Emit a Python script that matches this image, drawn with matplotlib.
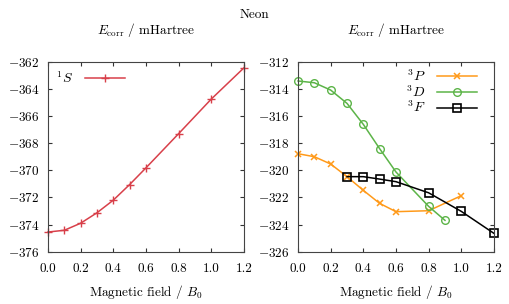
import matplotlib.pyplot as plt
import numpy as np

plt.rcParams['font.family'] = 'serif'
plt.rcParams['font.serif'] = ['cmr10']
plt.rcParams['mathtext.fontset'] = 'cm'
plt.rcParams['axes.formatter.use_mathtext'] = True
Fontsize = 9.5

# 1S state
field_s = [0.0, 0.1, 0.2, 0.3, 0.4, 0.5, 0.6, 0.8, 1.0, 1.2]
ecorr_s = [-374.55, -374.42, -373.9, -373.13, -372.2, -371.05, -369.82, -367.3, -364.75, -362.45]

# triplet states
field_p = [0.0, 0.1, 0.2, 0.3, 0.4, 0.5, 0.6, 0.8, 1.0]
ecorr_p = [-318.78, -319.0, -319.54, -320.47, -321.48, -322.44, -323.05, -322.98, -321.87]

field_d = [0.0, 0.1, 0.2, 0.3, 0.4, 0.5, 0.6, 0.8, 0.9]
ecorr_d = [-313.42, -313.55, -314.09, -315.07, -316.62, -318.41, -320.13, -322.66, -323.69]

field_f = [0.3, 0.4, 0.5, 0.6, 0.8, 1.0, 1.2]
ecorr_f = [-320.47, -320.47, -320.65, -320.84, -321.66, -323.03, -324.65]

red = '#d8404a'
orange = '#ff9a1a'
green = '#5cb448'

fig = plt.figure(figsize=(5.09, 3.04), dpi=100)
ax1 = fig.add_axes([0.0943, 0.172, 0.385, 0.625])
ax2 = fig.add_axes([0.5855, 0.172, 0.385, 0.625])

ax1.plot(field_s, ecorr_s, color=red, lw=1.1, marker='+', ms=6, mew=1.0,
         label=r'$^1S$', clip_on=False)
ax1.set_ylim(-376, -362)
ax1.set_yticks(np.arange(-376, -361, 2))

ax2.plot(field_p, ecorr_p, color=orange, lw=1.1, marker='x', ms=5, mew=1.1,
         label=r'$^3P$', clip_on=False)
ax2.plot(field_d, ecorr_d, color=green, lw=1.1, marker='o', ms=5.5, mew=1.0,
         mfc='none', label=r'$^3D$', clip_on=False)
ax2.plot(field_f, ecorr_f, color='black', lw=1.1, marker='s', ms=6, mew=1.2,
         mfc='none', label=r'$^3F$', clip_on=False)
ax2.set_ylim(-326, -312)
ax2.set_yticks(np.arange(-326, -311, 2))

for ax in (ax1, ax2):
    ax.set_xlim(0, 1.2)
    ax.set_xticks(np.arange(0, 1.21, 0.2))
    ax.set_xticklabels(['%.1f' % t for t in np.arange(0, 1.21, 0.2)])
    ax.set_title(r'$E_{\mathrm{corr}}$ / mHartree', fontsize=Fontsize, pad=20)
    ax.set_xlabel(r'Magnetic field / $B_0$', fontsize=Fontsize, labelpad=6)
    ax.tick_params(direction='in', top=True, right=True, labelsize=Fontsize,
                   length=3, color='#333333')
    ax.tick_params(axis='x', pad=8)
    ax.tick_params(axis='y', pad=6)
    for spine in ax.spines.values():
        spine.set_color('#444444')

ax1.legend(loc='upper left', markerfirst=False, frameon=False, fontsize=Fontsize + 0.5,
           handlelength=2.9, borderaxespad=0.2)
ax2.legend(loc='upper right', bbox_to_anchor=(0.95, 1.0), markerfirst=False,
           frameon=False, fontsize=Fontsize + 0.5,
           handlelength=2.9, labelspacing=0.0, borderaxespad=0.1)

fig.text(0.5, 0.95, 'Neon', ha='center', va='center', fontsize=Fontsize)

plt.savefig('out.png', dpi=100)
